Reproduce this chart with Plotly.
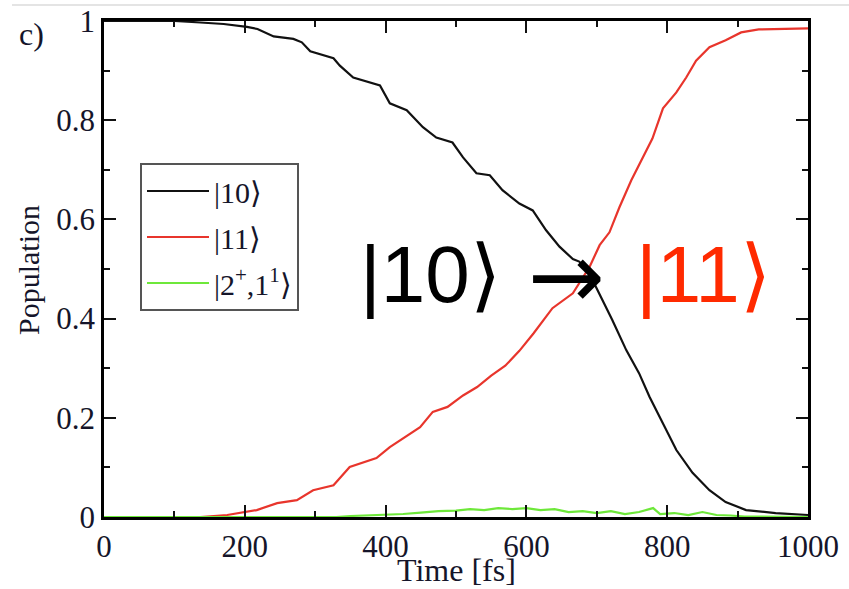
import plotly.graph_objects as go

# ---- data ----
t_10 = [0, 100, 137, 170, 203, 218, 241, 269, 281, 293, 326, 335, 354, 392, 406, 430, 453, 472, 495, 510,
        529, 548, 566, 590, 609, 628, 647, 666, 675, 687, 699, 722, 742, 760, 775, 794, 813, 836, 860, 883,
        912, 954, 1000]
p_10 = [1.0, 1.0, 0.997, 0.994, 0.988, 0.984, 0.969, 0.964, 0.957, 0.939, 0.925, 0.910, 0.886, 0.870, 0.834,
        0.820, 0.786, 0.765, 0.755, 0.725, 0.693, 0.689, 0.659, 0.632, 0.618, 0.578, 0.545, 0.520, 0.515, 0.497,
        0.463, 0.397, 0.336, 0.290, 0.242, 0.189, 0.135, 0.089, 0.054, 0.030, 0.014, 0.008, 0.004]

t_11 = [0, 137, 175, 217, 246, 274, 297, 326, 349, 387, 406, 425, 449, 467, 488, 510, 530, 550, 570, 590,
        610, 637, 666, 690, 704, 718, 732, 749, 765, 779, 794, 813, 827, 841, 860, 883, 905, 930, 1000]
p_11 = [0.0, 0.0, 0.004, 0.014, 0.028, 0.034, 0.054, 0.064, 0.101, 0.119, 0.141, 0.159, 0.181, 0.212, 0.222,
        0.245, 0.262, 0.285, 0.305, 0.335, 0.370, 0.421, 0.451, 0.505, 0.548, 0.574, 0.624, 0.679, 0.723,
        0.763, 0.824, 0.856, 0.886, 0.920, 0.947, 0.961, 0.977, 0.983, 0.985]

t_21 = [0, 330, 350, 375, 400, 425, 450, 475, 500, 520, 540, 560, 580, 600, 620, 640, 660, 680, 700, 720,
        740, 760, 780, 790, 810, 830, 850, 870, 890, 910, 1000]
p_21 = [0.0, 0.0, 0.002, 0.003, 0.004, 0.006, 0.009, 0.012, 0.013, 0.016, 0.014, 0.018, 0.016, 0.018, 0.014,
        0.016, 0.010, 0.012, 0.008, 0.012, 0.006, 0.010, 0.018, 0.006, 0.008, 0.004, 0.010, 0.004, 0.003,
        0.001, 0.0]

names = ["|10⟩", "|11⟩", "|2<sup>+</sup>,1<sup>1</sup>⟩"]
colors = ["#111111", "#e8352c", "#6ee83a"]

x_ticks = [0, 200, 400, 600, 800, 1000]
x_ticktext = ["0", "200", "400", "600", "800", "1000"]
y_ticks = [0, 0.2, 0.4, 0.6, 0.8, 1]
y_ticktext = ["0", "0.2", "0.4", "0.6", "0.8", "1"]

# ---- layout geometry (pixels) ----
W, H = 849, 589
L, R, T, B = 104, 808, 21, 517


def px(xp):
    return (xp - L) / (R - L)


def py(yp):
    return (B - yp) / (B - T)


serif = "Liberation Serif"
txt = "#15152a"

fig = go.Figure()
for i, (tt, pp) in enumerate([(t_10, p_10), (t_11, p_11), (t_21, p_21)]):
    fig.add_trace(go.Scatter(x=tt, y=pp, mode="lines", name=names[i],
                             line=dict(color=colors[i], width=2.2),
                             legendgroup="g%d" % i))

axis_common = dict(showline=True, linecolor="black", linewidth=2.5, mirror="allticks",
                   ticks="inside", ticklen=12, tickwidth=2, tickcolor="#111",
                   showgrid=False, zeroline=False, automargin=False,
                   tickfont=dict(family=serif, size=31, color=txt))

fig.update_xaxes(range=[0, 1000], tickvals=x_ticks, ticktext=x_ticktext,
                 minor=dict(dtick=100, ticks="inside", ticklen=6, tickwidth=2, tickcolor="#111"),
                 **axis_common)
fig.update_yaxes(range=[0, 1], tickvals=y_ticks, ticktext=y_ticktext,
                 minor=dict(dtick=0.1, ticks="inside", ticklen=6, tickwidth=2, tickcolor="#111"),
                 **axis_common)


def note(text, x, y, size, color=txt, family=serif, angle=0):
    return dict(text=text, xref="paper", yref="paper", x=px(x), y=py(y), xanchor="center",
                yanchor="middle", showarrow=False, textangle=angle,
                font=dict(family=family, size=size, color=color))


fig.update_layout(
    width=W, height=H,
    margin=dict(l=L, r=W - R, t=T, b=H - B, pad=0, autoexpand=False),
    paper_bgcolor="white", plot_bgcolor="white",
    legend=dict(x=px(140), y=py(163), xanchor="left", yanchor="top",
                bgcolor="white", bordercolor="#555", borderwidth=2,
                font=dict(family=serif, size=30, color=txt),
                traceorder="grouped", tracegroupgap=4, itemwidth=62),
    shapes=[dict(type="line", xref="paper", yref="paper", x0=px(12), x1=px(849), y0=py(5), y1=py(5),
                 line=dict(color="#e4e4e4", width=2))],
    annotations=[
        note("c)", 31, 34, 32),
        note("Time [fs]", 456, 570, 32),
        note("Population", 28, 270, 30, angle=-90),
        note("|10⟩", 430, 274, 80, color="black", family="Liberation Sans"),
        note("→", 566, 276, 92, color="black", family="DejaVu Sans"),
        note("|11⟩", 703, 274, 80, color="#ff2a00", family="Liberation Sans"),
    ],
)

fig.write_html("out.html", config={"displayModeBar": False},
               post_script="document.body.style.margin='0px';")
